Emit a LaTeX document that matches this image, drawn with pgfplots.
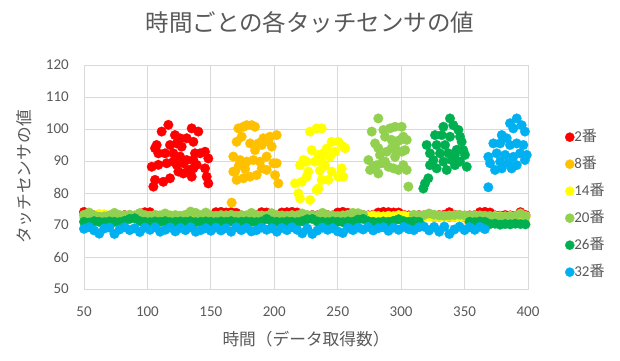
\documentclass[border=0pt]{standalone}
\usepackage{fontspec}
\setmainfont{Carlito}
\newfontfamily\jp{Noto Sans CJK JP}
\usepackage{pgfplots}
\usepackage{pgfplotstable}
\pgfplotsset{compat=1.18}
\definecolor{cR}{RGB}{255,0,0}
\definecolor{cO}{RGB}{255,192,0}
\definecolor{cY}{RGB}{255,255,0}
\definecolor{cLG}{RGB}{146,208,80}
\definecolor{cDG}{RGB}{0,176,80}
\definecolor{cB}{RGB}{0,176,240}
\definecolor{txt}{RGB}{89,89,89}
\definecolor{gridc}{RGB}{217,217,217}

\pgfplotstableread{
x r o y lg dg b
50 74.1 72.4 72.6 73.2 71.0 68.8
54 73.2 72.6 72.8 73.9 70.8 69.3
58 73.0 72.5 72.9 73.0 71.2 68.3
62 72.8 72.3 73.5 72.6 71.0 67.3
66 72.9 72.6 73.4 72.7 70.9 68.9
70 72.9 72.4 72.7 73.0 71.1 69.2
74 73.0 72.5 72.6 73.8 71.0 67.2
78 72.8 72.7 72.8 73.1 70.9 68.6
82 73.1 72.4 72.6 73.0 71.3 69.3
86 73.0 72.5 72.7 73.2 71.9 68.4
90 72.9 72.6 72.8 73.0 72.1 69.0
94 73.6 72.3 72.6 73.7 71.2 67.8
98 74.0 72.5 72.7 73.1 71.0 69.2
102 74.0 72.6 72.8 72.9 70.9 68.5
106 nan 72.4 72.6 73.2 71.1 69.3
110 nan 72.5 72.7 73.0 71.0 67.9
114 nan 72.7 72.8 73.6 71.2 68.5
118 nan 72.4 72.6 73.0 70.9 69.2
122 nan 72.5 72.7 73.1 71.0 68.0
126 nan 72.6 72.6 72.9 71.1 69.1
130 nan 72.3 72.8 73.2 71.0 68.4
134 nan 72.5 72.7 74.2 71.2 69.3
138 nan 72.6 72.6 73.8 70.9 67.9
142 nan 72.4 72.8 73.1 71.0 68.4
146 nan 72.5 72.7 73.9 71.1 69.0
150 nan 72.7 72.6 73.0 71.0 68.2
154 74.0 72.4 72.8 72.9 70.9 69.2
158 74.1 72.5 72.7 73.1 71.1 68.3
162 73.9 72.6 72.6 73.0 71.0 69.0
166 74.0 nan 72.8 73.2 71.2 67.9
170 73.8 nan 72.7 72.9 70.9 69.3
174 73.0 nan 72.6 73.1 71.0 68.4
178 72.9 nan 72.8 73.0 71.1 69.1
182 73.1 nan 72.7 73.8 71.0 68.0
186 73.0 nan 72.6 73.1 70.9 68.4
190 74.0 nan 72.8 73.0 71.1 69.2
194 73.9 nan 72.7 72.9 71.9 68.5
198 73.0 nan 72.6 73.7 71.1 69.0
202 72.9 nan 72.8 73.1 71.0 67.9
206 73.9 72.5 72.7 73.0 70.9 69.1
210 74.0 72.4 72.6 72.9 71.1 68.4
214 74.1 72.6 72.8 73.1 71.0 69.3
218 73.9 72.5 nan 73.0 70.9 68.5
222 73.0 72.3 nan 73.6 71.2 67.4
226 72.9 72.6 nan 73.1 71.8 68.9
230 73.1 72.4 nan 73.0 71.9 67.2
234 73.0 72.5 nan 72.9 71.1 68.3
238 72.9 72.7 nan 73.8 71.0 69.2
242 73.1 72.4 nan 73.1 70.9 68.5
246 73.0 72.5 nan 73.0 71.1 69.0
250 73.9 72.6 nan 72.8 71.0 68.0
254 74.1 72.3 nan 73.0 70.9 67.5
258 73.8 72.5 72.7 73.2 71.1 69.1
262 73.0 72.6 72.8 73.8 71.0 68.4
266 72.9 72.4 72.6 73.7 71.7 69.2
270 73.1 72.5 72.7 73.2 71.9 68.6
274 73.0 72.7 72.8 nan 71.2 69.4
278 73.2 72.4 73.0 nan 71.0 68.3
282 73.9 72.5 72.8 nan 70.9 69.0
286 74.1 72.6 72.7 nan 71.1 69.3
290 74.0 72.4 72.9 nan 71.0 68.2
294 73.9 72.5 72.8 nan 71.3 69.2
298 73.9 72.6 73.1 nan 71.8 68.5
302 73.2 72.3 73.0 nan 71.2 69.4
306 73.0 72.5 72.7 nan 71.0 68.7
310 72.9 72.6 72.6 73.2 71.1 68.4
314 73.1 72.4 72.8 73.0 71.0 69.3
318 73.0 72.5 72.7 73.1 nan 69.5
322 72.9 72.7 72.6 73.6 nan 68.3
326 73.0 72.4 72.8 73.2 nan 69.4
330 73.1 72.5 72.7 73.0 nan 67.9
334 73.2 72.6 72.6 72.9 nan 69.5
338 74.0 72.4 72.8 73.0 nan 67.2
342 73.2 72.5 72.7 73.1 nan 68.6
346 73.0 72.6 72.6 73.2 nan 69.5
350 72.9 72.3 72.8 73.0 nan 68.4
354 73.0 72.5 72.7 72.9 71.0 69.3
358 73.1 72.6 72.6 73.1 70.9 68.5
362 74.0 72.4 72.8 73.0 71.1 69.4
366 74.1 72.5 72.7 72.9 71.0 68.7
370 73.9 72.7 72.6 72.8 70.3 nan
374 73.0 72.4 72.8 72.6 70.4 nan
378 72.9 72.5 72.7 72.5 70.1 nan
382 73.1 72.6 72.6 72.7 70.3 nan
386 73.0 72.4 72.8 72.6 70.2 nan
390 72.9 72.5 72.7 72.8 70.4 nan
394 74.0 72.6 72.6 73.6 70.3 nan
398 73.1 72.4 72.8 72.7 70.2 nan
}\base

\begin{document}
\begin{tikzpicture}
\useasboundingbox (-84pt,-71pt) rectangle (536pt,289pt);
\begin{axis}[
  at={(0,0)}, anchor=south west,
  scale only axis, width=444pt, height=224pt,
  xmin=50, xmax=400, ymin=50, ymax=120,
  xtick={50,100,...,400}, ytick={50,60,...,120},
  grid=major, major grid style={draw=gridc, line width=0.75pt},
  axis line style={draw=gridc, line width=0.75pt},
  tick style={draw=none},
  /pgf/number format/assume math mode=true,
  tick label style={font=\fontsize{15}{15}\selectfont, text=txt},
  yticklabel style={anchor=east, inner sep=0pt, xshift=-15pt},
  xticklabel style={anchor=north, inner sep=0pt, yshift=-18pt},
  clip=false,
  unbounded coords=discard,
  every axis plot/.append style={only marks, mark=*, mark size=4.8pt, line width=0.3pt},
  legend image code/.code={\draw[#1, mark size=4.6pt] plot coordinates {(0pt,0pt)};},
  legend style={draw=none, fill=none, at={(1.0833,0.71)}, anchor=north west,
    inner sep=0pt, row sep=13pt,
    font=\fontsize{15}{15}\selectfont, text=txt,
    nodes={inner sep=0pt, text height=11pt, text depth=3pt, anchor=west}},
  legend cell align=left,
  /tikz/every even column/.append style={column sep=9pt},
]
% 2
\addplot[color=cR, forget plot] table[x=x, y=r] {\base};
\addplot[color=cR] coordinates {
(103.4,88.2)(104.7,82.0)(106.0,84.1)(106.0,94.0)(107.3,95.0)(108.6,88.8)(108.6,92.4)
(111.2,99.2)(112.5,83.5)(113.9,92.4)(115.2,89.3)(116.5,101.3)(117.8,95.0)(117.8,84.6)
(120.4,92.4)(120.4,89.8)(121.7,98.1)(123.1,95.5)(123.1,88.8)(124.4,86.7)(125.7,97.1)
(125.7,91.4)(127.0,94.5)(128.3,86.1)(128.3,89.3)(131.0,97.1)(131.0,90.3)(132.3,87.2)
(134.9,100.2)(134.9,85.1)(136.2,96.0)(136.2,90.3)(136.2,87.7)(137.5,92.4)(138.8,88.8)
(140.1,99.2)(141.5,92.4)(145.4,92.9)(145.4,87.7)(146.7,85.1)(148.0,90.8)(148.0,83.0)
};
\addlegendentry{2{\jp 番}}
% 8
\addplot[color=cO, forget plot] table[x=x, y=o] {\base};
\addplot[color=cO] coordinates {
(166.4,77.0)(167.7,91.4)(167.7,86.7)(169.1,86.7)(170.3,96.0)(170.3,84.1)(171.7,100.2)
(173.0,90.3)(174.3,97.6)(175.6,100.7)(175.6,84.6)(178.2,101.2)(178.2,89.8)(180.9,95.5)
(180.9,85.1)(182.2,101.2)(183.5,90.3)(184.8,100.7)(184.8,93.4)(186.1,85.6)(187.4,95.5)
(188.7,89.8)(190.1,95.0)(190.1,87.7)(191.4,97.1)(194.0,91.4)(194.0,87.2)(195.3,96.0)
(196.6,97.6)(199.3,89.3)(200.6,85.6)(201.9,98.1)(201.9,89.3)(203.2,83.0)(172.0,88.5)
(177.0,87.5)(198.0,94.5)
};
\addlegendentry{8{\jp 番}}
% 14
\addplot[color=cY, forget plot] table[x=x, y=y] {\base};
\addplot[color=cY] coordinates {
(216.3,83.0)(219.0,79.9)(220.3,78.3)(220.3,88.7)(221.6,83.5)(222.9,90.3)(225.5,89.8)
(225.5,85.1)(226.8,86.7)(228.2,99.2)(228.2,77.8)(229.5,93.4)(232.1,89.8)(233.4,100.2)
(233.4,80.9)(234.7,91.9)(234.7,81.4)(237.4,100.2)(237.4,89.8)(237.4,84.1)(238.7,92.4)
(241.3,93.9)(242.6,84.1)(243.9,91.3)(245.2,96.0)(245.2,86.7)(247.9,92.9)(250.5,96.0)
(250.5,85.1)(253.1,87.7)(254.4,94.5)(254.4,85.1)(255.8,94.0)(240.0,88.5)(236.0,87.0)
};
\addlegendentry{14{\jp 番}}
% 20
\addplot[color=cLG, forget plot] table[x=x, y=lg] {\base};
\addplot[color=cLG] coordinates {
(274.2,90.3)(275.5,87.2)(276.8,99.2)(278.1,88.2)(279.4,95.5)(280.7,88.7)(282.0,103.3)
(282.0,94.0)(282.0,86.1)(283.3,91.9)(284.7,89.3)(286.0,99.7)(287.3,97.6)(287.3,89.8)
(288.6,92.9)(289.9,88.2)(291.2,100.2)(292.5,96.6)(292.5,94.0)(293.9,87.7)(295.2,100.7)
(295.2,91.3)(296.5,96.0)(296.5,93.4)(297.8,87.2)(299.1,96.6)(300.4,100.7)(300.4,92.9)
(301.7,97.6)(301.7,88.7)(303.1,93.4)(304.4,96.6)(304.4,87.2)(305.7,82.0)
};
\addlegendentry{20{\jp 番}}
% 26
\addplot[color=cDG, forget plot] table[x=x, y=dg] {\base};
\addplot[color=cDG] coordinates {
(317.5,81.4)(318.8,83.0)(320.1,95.0)(321.4,84.6)(322.7,92.4)(322.7,88.7)(325.4,90.3)
(326.7,98.1)(328.0,95.0)(328.0,87.7)(330.6,92.4)(332.0,98.1)(333.3,100.7)(333.3,89.8)
(334.6,95.0)(335.9,87.2)(337.2,92.4)(338.5,103.3)(338.5,97.6)(339.8,90.3)(341.1,101.2)
(342.4,91.9)(342.4,88.7)(343.8,93.5)(345.1,99.7)(346.4,97.6)(346.4,89.8)(347.7,96.0)
(349.0,93.4)(350.3,91.9)(351.7,88.2)
};
\addlegendentry{26{\jp 番}}
% 32
\addplot[color=cB, forget plot] table[x=x, y=b] {\base};
\addplot[color=cB] coordinates {
(368.7,81.8)(368.7,91.3)(370.1,89.3)(372.7,95.5)(374.0,87.2)(375.3,92.4)(378.0,95.5)
(378.0,89.8)(379.3,98.1)(379.3,87.7)(381.9,91.9)(383.2,97.1)(384.5,89.3)(385.8,101.8)
(385.8,95.0)(387.1,87.7)(388.4,100.2)(388.4,91.3)(391.1,103.3)(391.1,95.5)(391.1,88.7)
(393.7,92.4)(395.0,101.2)(396.3,95.0)(397.6,99.2)(397.6,90.3)(399.0,91.9)
};
\addlegendentry{32{\jp 番}}
\end{axis}
\node[text=txt, font=\jp\fontsize{23.5}{23.5}\selectfont] at (226pt,266pt) {時間ごとの各タッチセンサの値};
\node[text=txt, font=\jp\fontsize{16.7}{16.7}\selectfont] at (222pt,-50pt) {時間（データ取得数）};
\node[text=txt, font=\jp\fontsize{16.7}{16.7}\selectfont, rotate=90] at (-60pt,112pt) {タッチセンサの値};
\end{tikzpicture}
\end{document}
